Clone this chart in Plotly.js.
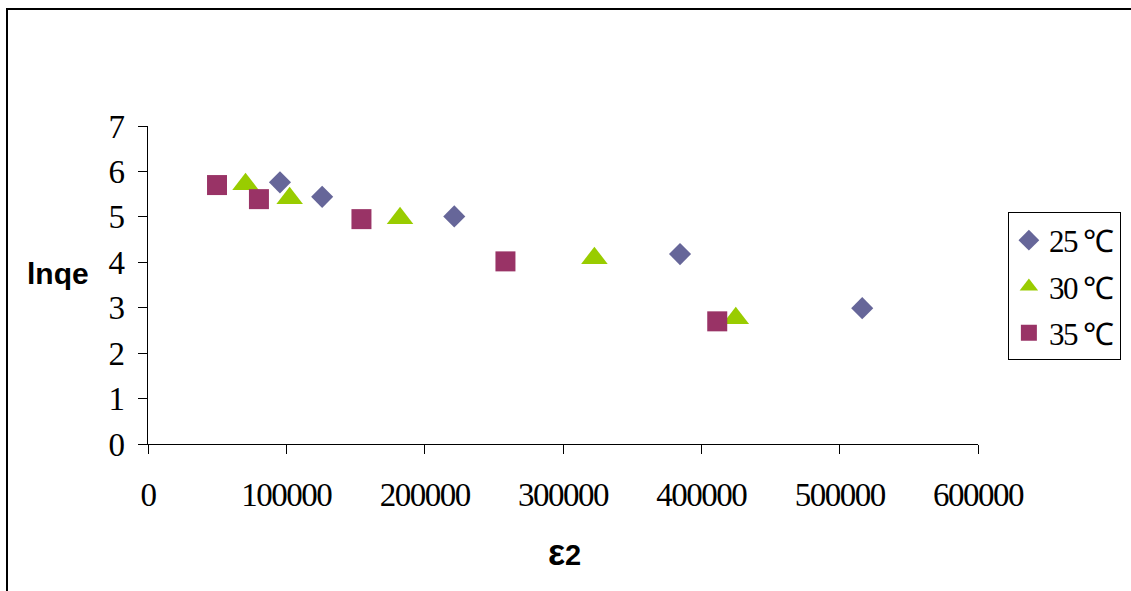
<!DOCTYPE html>
<html>
<head>
<meta charset="utf-8">
<script src="https://cdn.plot.ly/plotly-3.0.1.min.js"></script>
<style>
  html, body { margin: 0; padding: 0; background: #fff; }
  #wrap { position: relative; width: 1131px; height: 591px; overflow: hidden; }
  #chart { width: 1131px; height: 591px; }
  #frame { position: absolute; left: 6px; top: 8px; width: 1200px; height: 700px;
           border-left: 2px solid #000; border-top: 2px solid #000; pointer-events: none; }
  .xtick text, .ytick text, .legendtext { letter-spacing: -1.5px; }
</style>
</head>
<body>
<div id="wrap">
  <div id="chart"></div>
  <div id="frame"></div>
</div>
<script>
// Data
const seriesNames = ["25 ℃", "30 ℃", "35 ℃"];
const x25 = [95400, 125900, 221400, 384600, 516300];
const y25 = [5.76, 5.44, 5.01, 4.18, 2.99];
const x30 = [70500, 102400, 182200, 322700, 424900];
const y30 = [5.72, 5.41, 4.97, 4.09, 2.77];
const x35 = [49900, 80200, 154300, 258400, 411500];
const y35 = [5.70, 5.39, 4.95, 4.02, 2.70];
const xTitle = "<span style='font-size:36px'>ε</span>2";
const yTitle = "lnqe";

const serif = "Liberation Serif, Times New Roman, serif";
const sans = "Liberation Sans, Arial, sans-serif";

const traces = [
  { x: x25, y: y25, name: seriesNames[0], legendgroup: "a", type: "scatter", mode: "markers",
    marker: { symbol: "diamond", size: 17, color: "#666699" } },
  { x: x30, y: y30, name: seriesNames[1], legendgroup: "b", type: "scatter", mode: "markers",
    marker: { symbol: "triangle-up", size: 23, color: "#99cc00" } },
  { x: x35, y: y35, name: seriesNames[2], legendgroup: "c", type: "scatter", mode: "markers",
    marker: { symbol: "square", size: 20, color: "#993366" } }
];

const layout = {
  width: 1131, height: 591,
  margin: { l: 148, r: 153, t: 126, b: 147, pad: 0, autoexpand: false },
  paper_bgcolor: "#ffffff", plot_bgcolor: "#ffffff",
  showlegend: true,
  xaxis: {
    range: [0, 600000], dtick: 100000, tick0: 0, tickformat: "d",
    showline: true, linecolor: "#000", linewidth: 1, mirror: false,
    ticks: "outside", ticklen: 9, tickcolor: "#000", tickwidth: 1,
    showgrid: false, zeroline: false, fixedrange: true, automargin: false,
    tickfont: { family: serif, size: 33, color: "#000" },
    ticklabelstandoff: 12
  },
  yaxis: {
    range: [0, 7], dtick: 1, tick0: 0,
    showline: true, linecolor: "#000", linewidth: 1,
    ticks: "outside", ticklen: 9, tickcolor: "#000", tickwidth: 1,
    showgrid: false, zeroline: false, fixedrange: true, automargin: false,
    tickfont: { family: serif, size: 33, color: "#000" },
    ticklabelstandoff: 8
  },
  legend: {
    x: 1.036, y: 0.728, xanchor: "left", yanchor: "top",
    bordercolor: "#000", borderwidth: 1, bgcolor: "#fff",
    font: { family: serif, size: 31, color: "#000" },
    traceorder: "grouped", tracegroupgap: 3,
    itemwidth: 30
  },
  annotations: [
    { text: yTitle, xref: "paper", yref: "paper", x: -0.109, y: 0.537,
      xanchor: "center", yanchor: "middle", showarrow: false,
      font: { family: sans, size: 30, color: "#000", weight: "bold" } },
    { text: xTitle, xref: "paper", yref: "paper", x: 0.502, y: -0.342,
      xanchor: "center", yanchor: "middle", showarrow: false,
      font: { family: sans, size: 29, color: "#000", weight: "bold" } }
  ]
};

Plotly.newPlot("chart", traces, layout, { displayModeBar: false, staticPlot: true });
</script>
</body>
</html>
